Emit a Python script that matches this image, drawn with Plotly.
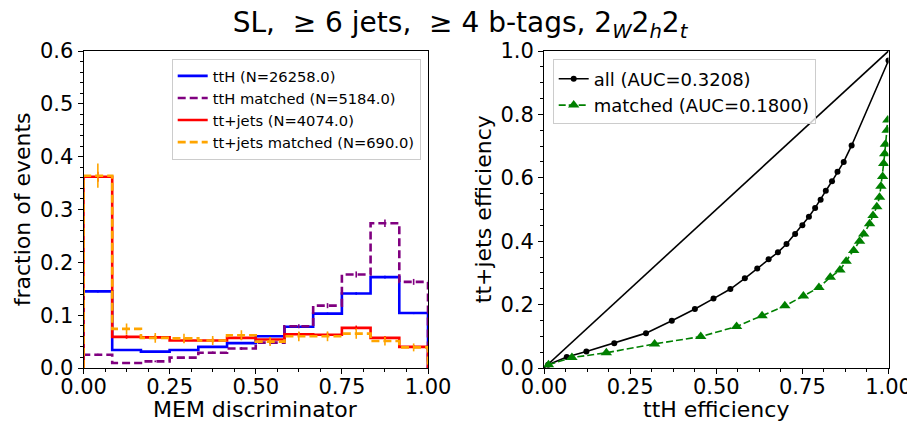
import plotly.graph_objects as go

# ---------------- data ----------------
bin_edges = [0.0, 1/12, 2/12, 3/12, 4/12, 5/12, 6/12, 7/12, 8/12, 9/12, 10/12, 11/12, 1.0]

tth_vals = [0.145, 0.034, 0.031, 0.034, 0.040, 0.047, 0.060, 0.078, 0.103, 0.141, 0.172, 0.104]
tth_errs = [0.0023, 0.0011, 0.0011, 0.0011, 0.0012, 0.0013, 0.0015, 0.0017, 0.0020, 0.0023, 0.0026, 0.0020]

tthm_vals = [0.025, 0.0095, 0.0126, 0.0196, 0.029, 0.037, 0.048, 0.079, 0.118, 0.177, 0.274, 0.163]
tthm_errs = [0.0022, 0.0014, 0.0016, 0.0019, 0.0024, 0.0027, 0.0030, 0.0039, 0.0048, 0.0058, 0.0073, 0.0056]

ttj_vals = [0.362, 0.059, 0.058, 0.052, 0.052, 0.057, 0.054, 0.064, 0.063, 0.076, 0.057, 0.040]
ttj_errs = [0.0094, 0.0038, 0.0038, 0.0036, 0.0036, 0.0037, 0.0036, 0.0040, 0.0039, 0.0043, 0.0037, 0.0031]

ttjm_vals = [0.364, 0.074, 0.057, 0.056, 0.052, 0.062, 0.050, 0.060, 0.060, 0.065, 0.051, 0.039]
ttjm_errs = [0.0229, 0.0104, 0.0091, 0.0090, 0.0087, 0.0095, 0.0085, 0.0093, 0.0093, 0.0097, 0.0086, 0.0075]

hist_labels = ["ttH (N=26258.0)", "ttH matched (N=5184.0)",
               "tt+jets (N=4074.0)", "tt+jets matched (N=690.0)"]

roc_all_x = [0.012, 0.066, 0.123, 0.204, 0.296, 0.371, 0.438, 0.492, 0.541, 0.583,
             0.619, 0.652, 0.679, 0.704, 0.729, 0.750, 0.769, 0.787, 0.803, 0.818,
             0.836, 0.852, 0.870, 0.893, 1.0]
roc_all_y = [0.010, 0.035, 0.052, 0.078, 0.110, 0.149, 0.186, 0.219, 0.249, 0.283,
             0.314, 0.343, 0.365, 0.391, 0.423, 0.450, 0.477, 0.505, 0.531, 0.559,
             0.589, 0.619, 0.650, 0.702, 0.970]

roc_m_x = [0.013, 0.081, 0.181, 0.321, 0.455, 0.559, 0.633, 0.699, 0.753, 0.798,
           0.831, 0.859, 0.877, 0.899, 0.916, 0.928, 0.945, 0.955, 0.966, 0.974,
           0.978, 0.983, 0.986, 0.989, 0.991, 0.996, 0.998]
roc_m_y = [0.010, 0.033, 0.048, 0.076, 0.099, 0.131, 0.165, 0.196, 0.227, 0.254,
           0.286, 0.309, 0.337, 0.371, 0.400, 0.423, 0.455, 0.481, 0.509, 0.539,
           0.573, 0.604, 0.645, 0.676, 0.706, 0.750, 0.782]

diag_x = [0.0, 1.0]
diag_y = [0.0, 1.0]

roc_labels = ["all (AUC=0.3208)", "matched (AUC=0.1800)"]

# ---------------- layout geometry (page body has an 8px margin) ----------------
FONT = "DejaVu Sans"
OFF = 8
W, H = 915 - OFF, 426 - OFF
TOP, BOT = 50.5 - OFF, 368 - OFF


def px(xp):
    return (xp - OFF) / W


def py(yp):
    return (BOT - (yp - OFF)) / (BOT - TOP)


fig = go.Figure()


def step_xy(vals):
    xs = [bin_edges[0]] + list(bin_edges) + [bin_edges[-1]]
    ys = [0.0] + list(vals) + [vals[-1], 0.0]
    return xs, ys


centers = [(bin_edges[i] + bin_edges[i + 1]) / 2 for i in range(len(bin_edges) - 1)]

hist_specs = [
    (tth_vals, tth_errs, "#0000FF", "solid"),
    (tthm_vals, tthm_errs, "#800080", "8px,4px"),
    (ttj_vals, ttj_errs, "#FF0000", "solid"),
    (ttjm_vals, ttjm_errs, "#FFA500", "8px,4px"),
]

for (vals, errs, col, dash), lab in zip(hist_specs, hist_labels):
    xs, ys = step_xy(vals)
    fig.add_trace(go.Scatter(
        x=xs, y=ys, mode="lines", line=dict(color=col, width=2.6, dash=dash, shape="hv"),
        name=lab, xaxis="x", yaxis="y", legend="legend"))
    fig.add_trace(go.Scatter(
        x=centers, y=vals, mode="markers", marker=dict(size=0.1, color=col),
        error_y=dict(type="data", array=errs, color=col, thickness=1.6, width=0),
        showlegend=False, xaxis="x", yaxis="y", hoverinfo="skip"))

# ROC plot
fig.add_trace(go.Scatter(x=diag_x, y=diag_y, mode="lines", line=dict(color="black", width=1.6),
                         showlegend=False, xaxis="x2", yaxis="y2"))
fig.add_trace(go.Scatter(x=roc_all_x, y=roc_all_y, mode="lines+markers",
                         line=dict(color="black", width=1.6),
                         marker=dict(symbol="circle", size=6, color="black"),
                         name=roc_labels[0], xaxis="x2", yaxis="y2", legend="legend2"))
fig.add_trace(go.Scatter(x=roc_m_x, y=roc_m_y, mode="lines+markers",
                         line=dict(color="#008000", width=1.6, dash="7px,3px"),
                         marker=dict(symbol="triangle-up", size=10, color="#008000"),
                         name=roc_labels[1], xaxis="x2", yaxis="y2", legend="legend2"))

axis_common = dict(
    showgrid=False, zeroline=False, showline=True, linecolor="black", linewidth=1,
    mirror=True, ticks="outside", ticklen=5, tickwidth=1, tickcolor="black",
    tickfont=dict(family=FONT, size=21, color="black"), automargin=False,
)

L_DOM = [px(83.5), px(428)]
R_DOM = [px(544), px(888.5)]

annots = [
    dict(text="fraction of events", x=px(22), y=py(209), textangle=-90),
    dict(text="tt+jets efficiency", x=px(483), y=py(209), textangle=-90),
    dict(text="MEM discriminator", x=px(255.75), y=py(395), yanchor="top"),
    dict(text="ttH efficiency", x=px(716.25), y=py(395), yanchor="top"),
]
for a in annots:
    a.update(xref="paper", yref="paper", showarrow=False,
             font=dict(family=FONT, size=22, color="black"))
    a.setdefault("yanchor", "middle")
    a["xanchor"] = "center"

fig.update_layout(
    width=W, height=H,
    margin=dict(l=0, r=0, t=TOP, b=H - BOT, pad=0),
    paper_bgcolor="white", plot_bgcolor="white",
    font=dict(family=FONT, color="black"),
    title=dict(
        text="SL, \u00a0\u2265 6 jets, \u00a0\u2265 4 b-tags, 2<sub><i>W</i></sub>2<sub><i>h</i></sub>2<sub><i>t</i></sub>",
        x=(460 - OFF) / W, xanchor="center", y=1 - (22 - OFF) / H, yanchor="middle",
        font=dict(family=FONT, size=28, color="black")),
    xaxis=dict(domain=L_DOM, range=[0, 1], tickvals=[0, 0.25, 0.5, 0.75, 1.0],
               tickformat=".2f", ticklabelstandoff=-5,
               minor=dict(dtick=0.0625, ticks="outside", ticklen=3, tickcolor="black"),
               anchor="y", **axis_common),
    yaxis=dict(domain=[0, 1], range=[0, 0.6], dtick=0.1, tickformat=".1f",
               minor=dict(dtick=0.02, ticks="outside", ticklen=3, tickcolor="black"),
               anchor="x", **axis_common),
    xaxis2=dict(domain=R_DOM, range=[0, 1], tickvals=[0, 0.25, 0.5, 0.75, 1.0],
                tickformat=".2f", ticklabelstandoff=-5,
                minor=dict(dtick=0.0625, ticks="outside", ticklen=3, tickcolor="black"),
                anchor="y2", **axis_common),
    yaxis2=dict(domain=[0, 1], range=[0, 1], dtick=0.2, tickformat=".1f",
                minor=dict(dtick=0.05, ticks="outside", ticklen=3, tickcolor="black"),
                anchor="x2", **axis_common),
    legend=dict(x=px(420.7), xanchor="right", y=py(58.3), yanchor="top",
                bgcolor="rgba(255,255,255,0.8)", bordercolor="#cccccc", borderwidth=1,
                font=dict(family=FONT, size=14.7), itemwidth=30, tracegroupgap=0),
    legend2=dict(x=px(552.7), xanchor="left", y=py(59), yanchor="top",
                 bgcolor="rgba(255,255,255,0.8)", bordercolor="#cccccc", borderwidth=1,
                 font=dict(family=FONT, size=18), itemwidth=30, tracegroupgap=0),
    annotations=annots,
    showlegend=True,
)

fig.write_html("out.html")
